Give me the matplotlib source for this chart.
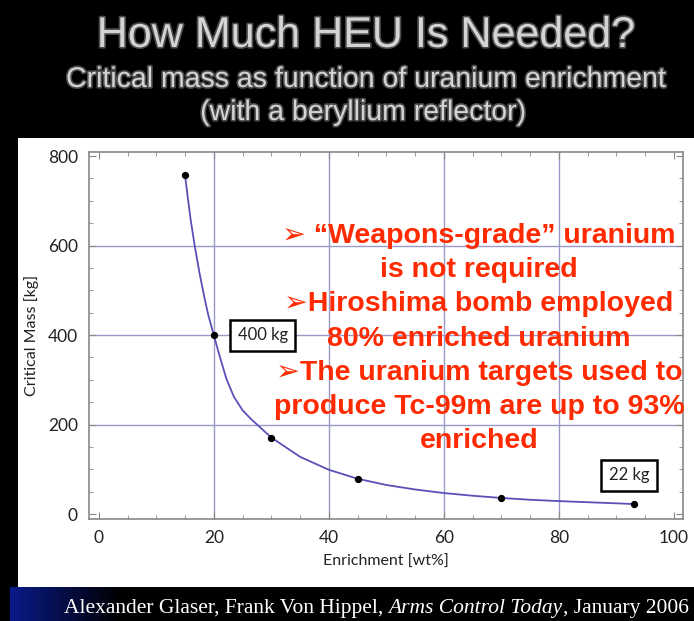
import numpy as np
import matplotlib.pyplot as plt
import matplotlib.patheffects as pe
from matplotlib.patches import Rectangle
from matplotlib.colors import LinearSegmentedColormap

# data
enrich_pts = [15, 20, 30, 45, 70, 93]
mass_pts = [757, 400, 170, 78, 35, 22]

# points along the drawn curve
curve_x = [15, 15.5, 16, 16.7, 17.5, 18.3, 19, 20, 21, 22.2, 23.5, 25, 26.5, 27.7,
           30, 35, 40, 45, 50, 55, 60, 65, 70, 75, 80, 85, 90, 93]
curve_y = [757, 705, 656, 598, 540, 488, 447, 400, 354, 302, 262, 232, 212, 198,
           171, 128, 99, 79, 65, 55, 47, 41, 36, 32, 29, 26.5, 24, 22.5]

box_labels = ["400 kg", "22 kg"]
box_pos = [(28.5, 400), (92.2, 87)]

notes = ["\u27a2 \u201cWeapons-grade\u201d uranium",
         "is not required",
         "\u27a2Hiroshima bomb employed",
         "80% enriched uranium",
         "\u27a2The uranium targets used to",
         "produce Tc-99m are up to 93%",
         "enriched"]

W, H = 694, 621
fig = plt.figure(figsize=(W / 100, H / 100), dpi=100, facecolor="black")

# blue gradient in the bottom-left corner
grad = np.linspace(1, 0, 256).reshape(1, -1)
gax = fig.add_axes([10 / W, 0, 110 / W, 34 / H], zorder=-2)
gax.imshow(grad, aspect="auto",
           cmap=LinearSegmentedColormap.from_list("bk", ["#000000", "#0a1a8a"]))
gax.axis("off")

# white panel
fig.patches.append(Rectangle((18 / W, 1 - 587 / H), 1, (587 - 138) / H,
                             transform=fig.transFigure, facecolor="white",
                             edgecolor="none", zorder=-1))

title_fx = [pe.withStroke(linewidth=2.4, foreground="#4a4a4a")]
fig.text(0.527, 1 - 36 / H, "How Much HEU Is Needed?", ha="center", va="center",
         fontsize=31, color="#d4d4d4", family="Liberation Sans", path_effects=title_fx)
fig.text(0.527, 1 - 80 / H, "Critical mass as function of uranium enrichment",
         ha="center", va="center", fontsize=20.5, color="#d4d4d4",
         family="Liberation Sans", path_effects=title_fx)
fig.text(0.523, 1 - 113 / H, "(with a beryllium reflector)", ha="center", va="center",
         fontsize=20.5, color="#d4d4d4", family="Liberation Sans", path_effects=title_fx)

ax = fig.add_axes([89 / W, 1 - 519 / H, (683 - 89) / W, (519 - 152) / H])
ax.set_facecolor("white")
grid_c = "#9a9ac8"
for g in [20, 40, 60, 80]:
    ax.axvline(g, color=grid_c, lw=1, zorder=1)
for g in [200, 400, 600]:
    ax.axhline(g, color=grid_c, lw=1, zorder=1)

ax.plot(curve_x, curve_y, color="#5a50b8", lw=1.3, zorder=3)
ax.scatter(enrich_pts, mass_pts, s=18, color="black", zorder=4)

for lab, (bx, by) in zip(box_labels, box_pos):
    ax.text(bx, by, lab, ha="center", va="center", fontsize=12, family="Lato",
            color="#222222", zorder=5,
            bbox=dict(boxstyle="square,pad=0.45", facecolor="white",
                      edgecolor="black", lw=1.8))

ax.set_xlim(-1.7, 101.6)
ax.set_ylim(-11, 809)
ax.set_xticks([0, 20, 40, 60, 80, 100])
ax.set_yticks([0, 200, 400, 600, 800])
ax.set_xticks(np.arange(0, 101, 5), minor=True)
ax.set_yticks(np.arange(0, 801, 50), minor=True)
ax.tick_params(which="both", direction="in", top=True, right=True, color="#888888")
ax.tick_params(which="major", length=5, labelsize=12.5, labelcolor="#222222", pad=8)
ax.tick_params(which="minor", length=3)
for lab in ax.get_xticklabels() + ax.get_yticklabels():
    lab.set_family("Lato")
for s in ax.spines.values():
    s.set_color("#888888")
    s.set_linewidth(1.2)
ax.set_xlabel("Enrichment [wt%]", fontsize=11.5, family="Lato", color="#222222", labelpad=6)
ax.set_ylabel("Critical Mass [kg]", fontsize=11.5, family="Lato", color="#222222", labelpad=6)

# red notes
for i, line in enumerate(notes):
    fig.text(479 / W, 1 - (236 + 34.2 * i) / H, line, ha="center", va="center",
             fontsize=20.5, fontweight="bold", color="#ff2a00",
             family=["Liberation Sans", "DejaVu Sans"], zorder=10)

# footer with italic journal name
fig.canvas.draw()
r = fig.canvas.get_renderer()
parts = [("Alexander Glaser, Frank Von Hippel, ", "normal"),
         ("Arms Control Today", "italic"),
         (", January 2006", "normal")]
x0 = 64 / W
for txt, st in parts:
    t = fig.text(x0, 1 - 609 / H, txt, ha="left", va="center", fontsize=15.5,
                 color="white", family="Liberation Serif", style=st)
    bb = t.get_window_extent(renderer=r)
    x0 += bb.width / W

fig.savefig("out.png", dpi=100, facecolor="black")
